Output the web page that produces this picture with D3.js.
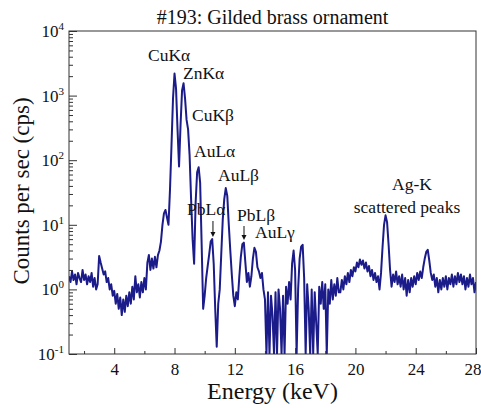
<!DOCTYPE html>
<html><head><meta charset="utf-8">
<script src="https://cdn.jsdelivr.net/npm/d3@7"></script>
<style>
body{margin:0;background:#fff}
svg{display:block}
</style>
</head><body>
<svg id="chart" width="481" height="408"></svg>
<script>
// ---------------- data ----------------
const title = "#193: Gilded brass ornament";
const xLabel = "Energy (keV)";
const yLabel = "Counts per sec (cps)";
const xTickValues = [4, 8, 12, 16, 20, 24, 28];
const xMinorTickValues = [2, 6, 10, 14, 18, 22, 26];
const yTickExponents = [-1, 0, 1, 2, 3, 4];
// spectrum channels: 1.0 keV to 28.0 keV, 0.1 keV apart (one row per keV)
const energyStart = 1.0;
const energyStep = 0.1;
const counts = [
  1.6, 1.3, 1.9, 1.4, 1.7, 1.2, 1.8, 1.5, 1.3, 2.0,      // 1
  1.4, 1.7, 1.2, 1.6, 1.3, 1.8, 1.1, 1.5, 1.0, 1.2,      // 2
  3.3, 2.6, 2.1, 1.7, 1.9, 1.3, 1.5, 1.0, 1.2, 0.8,      // 3
  0.95, 0.6, 0.85, 0.5, 0.75, 0.4, 0.7, 0.45, 0.8, 0.55, // 4
  0.9, 0.6, 1.1, 0.7, 1.6, 0.9, 1.2, 0.75, 1.3, 0.9,     // 5
  1.5, 1.0, 2.6, 3.4, 2.0, 3.0, 2.1, 3.2, 2.2, 3.4,      // 6
  4.0, 5.5, 10, 15, 17, 13, 10, 35, 170, 900,            // 7
  2200, 1300, 300, 80, 350, 1200, 1550, 900, 420, 300,   // 8
  120, 25, 6, 2.5, 22, 65, 78, 45, 5, 0.5,               // 9
  0.8, 1.5, 2.3, 3.5, 5.5, 6.0, 2.5, 0.5, 0.13, 0.6,     // 10
  1.0, 3.5, 12, 25, 37, 28, 10, 4, 1.7, 0.8,             // 11
  0.55, 0.9, 0.7, 1.6, 3.2, 5.0, 5.3, 2.6, 1.3, 1.8,     // 12
  1.1, 1.6, 3.0, 4.4, 3.8, 2.2, 1.9, 1.5, 1.8, 1.0,      // 13
  0.7, 0.05, 0.9, 0.05, 0.8, 0.4, 0.05, 0.9, 0.05, 1.0,  // 14
  0.5, 0.05, 0.8, 0.05, 1.1, 0.6, 1.3, 0.7, 2.5, 4.0,    // 15
  2.0, 0.05, 1.0, 3.0, 4.6, 4.9, 1.5, 0.05, 1.2, 0.5,    // 16
  0.05, 1.0, 0.05, 0.9, 0.3, 0.05, 1.1, 0.6, 1.3, 0.5,   // 17
  1.2, 0.08, 1.0, 0.6, 1.4, 0.7, 1.2, 0.8, 1.5, 0.9,     // 18
  0.9, 1.4, 1.0, 1.6, 1.2, 1.8, 1.3, 2.0, 1.6, 2.2,      // 19
  1.9, 2.6, 2.2, 2.9, 2.4, 2.8, 2.1, 2.6, 1.9, 2.3,      // 20
  1.6, 2.0, 1.4, 1.8, 1.3, 1.6, 1.0, 1.8, 4.5, 10,       // 21
  14, 11, 5, 2.0, 1.1, 1.7, 1.3, 1.9, 1.2, 1.6,          // 22
  1.1, 1.7, 1.0, 1.5, 0.8, 1.4, 0.9, 1.5, 1.1, 1.6,      // 23
  1.2, 1.8, 1.4, 1.9, 1.5, 2.2, 3.0, 3.8, 4.1, 2.8,      // 24
  1.8, 1.4, 1.7, 1.1, 1.5, 0.9, 1.4, 1.0, 1.5, 1.1,      // 25
  1.6, 1.0, 1.5, 1.2, 1.7, 1.1, 1.6, 1.2, 1.8, 1.3,      // 26
  1.7, 1.2, 1.6, 1.0, 1.5, 1.1, 1.7, 1.2, 1.5, 0.9,      // 27
  1.3                                                    // 28
];
const peakLabels = ["CuKα", "ZnKα", "CuKβ", "AuLα", "AuLβ", "PbLα", "PbLβ", "AuLγ"];
const arrowEnergies = [10.55, 12.61];   // PbLα, PbLβ line energies
const agLabels = ["Ag-K", "scattered peaks"];

// ---------------- layout ----------------
const FONT = "Liberation Serif";
const plot = {left: 69, right: 476, top: 31, bottom: 354};
const lineColor = "#1b1b8a";
const axisColor = "#333";

const svg = d3.select("#chart");

const x = d3.scaleLinear().domain([1, 28]).range([plot.left, plot.right]);
const y = d3.scaleLog().domain([0.1, 1e4]).range([plot.bottom, plot.top]).clamp(true);

const data = counts.map((c, i) => ({e: energyStart + i * energyStep, c}));

svg.append("defs").append("clipPath").attr("id", "clip")
  .append("rect").attr("x", plot.left).attr("y", plot.top)
  .attr("width", plot.right - plot.left).attr("height", plot.bottom - plot.top);

// spectrum
svg.append("path")
  .datum(data)
  .attr("clip-path", "url(#clip)")
  .attr("fill", "none")
  .attr("stroke", lineColor)
  .attr("stroke-width", 2)
  .attr("stroke-linejoin", "round")
  .attr("d", d3.line().x(d => x(d.e)).y(d => y(d.c)));

// axes
const gx = svg.append("g").attr("transform", `translate(0,${plot.bottom})`)
  .call(d3.axisBottom(x).tickValues(xTickValues).tickSize(-6).tickPadding(9).tickFormat(d3.format("d")));
const gxm = svg.append("g").attr("transform", `translate(0,${plot.bottom})`)
  .call(d3.axisBottom(x).tickValues(xMinorTickValues).tickSize(-3).tickFormat(""));
const majorY = yTickExponents.map(p => Math.pow(10, p));
const minorY = [];
yTickExponents.slice(0, -1).forEach(p => { for (let k = 2; k <= 9; k++) minorY.push(k * Math.pow(10, p)); });
const gy = svg.append("g").attr("transform", `translate(${plot.left},0)`)
  .call(d3.axisLeft(y).tickValues(majorY).tickSize(-8).tickFormat(""));
const gym = svg.append("g").attr("transform", `translate(${plot.left},0)`)
  .call(d3.axisLeft(y).tickValues(minorY).tickSize(-4).tickFormat(""));
[gx, gxm, gy, gym].forEach(g => {
  g.attr("font-family", FONT).attr("font-size", 17);
  g.select(".domain").remove();
  g.selectAll("line").attr("stroke", axisColor);
  g.selectAll("text").attr("fill", "#111");
});
// keep the last x label ("28") inside the picture
gx.selectAll(".tick").filter(d => d === 28).select("text").attr("text-anchor", "end").attr("x", 5);

// y tick labels 10^n
const ylab = svg.append("g").attr("font-family", FONT).attr("fill", "#111");
yTickExponents.forEach(p => {
  const t = ylab.append("text").attr("x", 64).attr("y", y(Math.pow(10, p)) + 6)
    .attr("text-anchor", "end").attr("font-size", 17);
  t.append("tspan").text("10");
  t.append("tspan").attr("dy", -7).attr("font-size", 11).text(String(p));
});

// frame
svg.append("rect").attr("x", plot.left).attr("y", plot.top)
  .attr("width", plot.right - plot.left).attr("height", plot.bottom - plot.top)
  .attr("fill", "none").attr("stroke", axisColor).attr("stroke-width", 1);

// titles
const tg = svg.append("g").attr("font-family", FONT).attr("fill", "#111");
tg.append("text").attr("x", (plot.left + plot.right) / 2).attr("y", 24)
  .attr("text-anchor", "middle").attr("font-size", 20).text(title);
tg.append("text").attr("x", (plot.left + plot.right) / 2).attr("y", 399)
  .attr("text-anchor", "middle").attr("font-size", 24).text(xLabel);
tg.append("text").attr("transform", "translate(29,191) rotate(-90)")
  .attr("text-anchor", "middle").attr("font-size", 23).text(yLabel);

// peak annotations
const labelPos = [[148, 61], [183, 79], [192, 121], [194, 157], [218, 181], [187, 215], [237, 221], [255, 238]];
peakLabels.forEach((s, i) => {
  tg.append("text").attr("x", labelPos[i][0]).attr("y", labelPos[i][1])
    .attr("font-size", 17.5).text(s);
});
const arrowSpan = [[221, 237], [226, 240]];
arrowEnergies.forEach((e, i) => {
  const ax = x(e), [y1, y2] = arrowSpan[i];
  svg.append("line").attr("x1", ax).attr("x2", ax).attr("y1", y1).attr("y2", y2 - 4)
    .attr("stroke", "#111").attr("stroke-width", 1);
  svg.append("path").attr("d", `M${ax - 2.5},${y2 - 5} L${ax + 2.5},${y2 - 5} L${ax},${y2} Z`).attr("fill", "#111");
});
tg.append("text").attr("x", 412).attr("y", 190).attr("text-anchor", "middle")
  .attr("font-size", 17.5).text(agLabels[0]);
tg.append("text").attr("x", 407).attr("y", 213).attr("text-anchor", "middle")
  .attr("font-size", 17.5).text(agLabels[1]);
</script>
</body></html>
